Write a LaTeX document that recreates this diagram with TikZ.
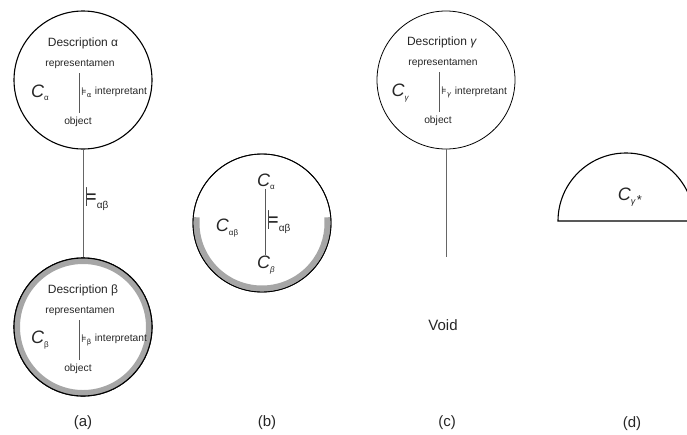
\documentclass[tikz,border=0pt]{standalone}
\usepackage{fontspec}
\setmainfont{Liberation Sans}
\newfontfamily\symfont{DejaVu Sans}
\newcommand\lowsub[2][8]{\raisebox{-0.35ex}{\fontsize{#1}{#1}\selectfont #2}}
\newcommand\bigturn{\scalebox{0.5}[1]{\symfont\fontsize{27}{28}\selectfont ⊨}}
\begin{document}
\begin{tikzpicture}[x=1pt,y=-1pt,
  every node/.style={inner sep=0pt, text=black!85},
  ring/.style={circle, draw=black, line width=1.1pt, minimum size=138pt, inner sep=0pt},
  thinring/.style={circle, draw=black, line width=0.8pt, minimum size=138pt, inner sep=0pt},
  desc/.style={font=\fontsize{12}{14}\selectfont},
  lab/.style={font=\fontsize{10.3}{12}\selectfont},
  bigC/.style={font=\fontsize{18}{20}\selectfont\itshape},
  capt/.style={font=\fontsize{15}{17}\selectfont},
  link/.style={draw=black!60, line width=1pt},
  inner/.style={draw=black!65, line width=1pt},
  band/.style={draw=black!35, line width=6pt},
  models/.style={font=\symfont\fontsize{11}{12}\selectfont},
  turn/.style={font=\fontsize{10.3}{12}\selectfont}
]
\useasboundingbox (0,0) rectangle (687,434);
\clip (0,0) rectangle (687,434);

% ---------- (a) ----------
\node[ring] (A) at (83,80) {};
\node[desc] (descA) at (83,43) {Description α};
\node[lab] (repA) at (80,64) {representamen};
\coordinate (topA) at (79,73);
\coordinate (botA) at (79,113);
\draw[inner] (topA) -- (botA);
\node[models, anchor=west] (modA) at (81,93) {⊧\lowsub[7]{α}};
\node[lab] (intA) at (121,92) {interpretant};
\node[lab] (objA) at (78,122) {object};
\node[bigC] (CA) at (40,93) {C\lowsub{\upshape α}};

\node[ring] (B) at (83,327) {};
\draw[band] (B.center) ++(0:66) arc[start angle=0, end angle=360, radius=66];
\draw[black, line width=1.1pt] (B.center) circle[radius=69];
\node[desc] (descB) at (83,290) {Description β};
\node[lab] (repB) at (80,311) {representamen};
\coordinate (topB) at (79,320);
\coordinate (botB) at (79,360);
\draw[inner] (topB) -- (botB);
\node[models, anchor=west] (modB) at (81,340) {⊧\lowsub[7]{β}};
\node[lab] (intB) at (121,339) {interpretant};
\node[lab] (objB) at (78,369) {object};
\node[bigC] (CB) at (40,340) {C\lowsub{\upshape β}};

\draw[link] (A.south) -- (B.north);
\node[turn, anchor=west] (tAB) at (85,199) {\bigturn\lowsub[10]{αβ}};

\node[capt] (capA) at (83,423) {(a)};

% ---------- (b) ----------
\node[thinring] (Bc) at (262,223) {};
\draw[band, line cap=butt] (Bc.center) ++(185:65.5) arc[start angle=185, end angle=-5, radius=65.5];
\draw[black, line width=0.9pt] (Bc.center) circle[radius=69];
\node[bigC] (Ca2) at (266,182) {C\lowsub{\upshape α}};
\node[bigC] (Cb2) at (266,265) {C\lowsub{β}};
\draw[inner] ([xshift=-1pt,yshift=1pt]Ca2.south) coordinate (topBc) -- ([xshift=-1pt,yshift=1pt]Cb2.north) coordinate (botBc);
\node[turn, anchor=west] (tBc) at (267,222) {\bigturn\lowsub[10]{αβ}};
\node[bigC] (Cab) at (227,228) {C\lowsub{\upshape αβ}};

\node[capt] (capB) at (267,423) {(b)};

% ---------- (c) ----------
\node[thinring] (Cc) at (446,80) {};
\node[desc] (descC) at (442,42) {Description \textit{γ}};
\node[lab] (repC) at (443,63) {representamen};
\coordinate (topC) at (439,72);
\coordinate (botC) at (439,112);
\draw[inner] (topC) -- (botC);
\node[models, anchor=west] (modC) at (441,92) {⊧\lowsub[7]{\textit{γ}}};
\node[lab] (intC) at (481,92) {interpretant};
\node[lab] (objC) at (438,121) {object};
\node[bigC] (CC) at (400,93) {C\lowsub{γ}};
\coordinate (voidtop) at (446,257);
\draw[link] (Cc.south) -- (voidtop);
\node[capt] (void) at (443,325) {Void};

\node[capt] (capC) at (447,423) {(c)};

% ---------- (d) ----------
\coordinate (dleft) at (558,221);
\draw[black, line width=1.1pt] (dleft) arc[start angle=180, end angle=360, radius=68] -- cycle;
\node[bigC] (Cgs) at (630,197) {C\lowsub[9]{γ\,\upshape\fontsize{13}{13}\selectfont *}};

\node[capt] (capD) at (632,424) {(d)};
\end{tikzpicture}
\end{document}
